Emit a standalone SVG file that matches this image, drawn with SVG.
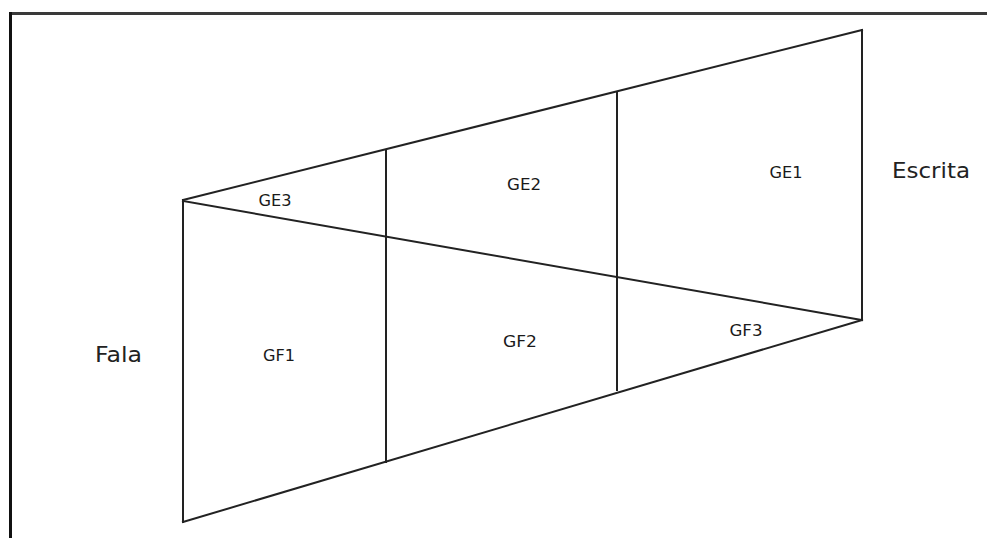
<svg xmlns="http://www.w3.org/2000/svg" width="987" height="538" viewBox="0 0 987 538">
<style>
.ln{stroke:#222;stroke-width:2;fill:none;stroke-linecap:square}
.lb{font-family:"DejaVu Sans",Verdana,sans-serif;font-size:16px;fill:#1a1a1a;text-anchor:middle}
.sd{font-family:"DejaVu Sans",Verdana,sans-serif;font-size:22px;fill:#222;text-anchor:start}
</style>
<rect width="987" height="538" fill="#fff"/>
<g id="frame">
<line x1="10.5" y1="13.5" x2="987" y2="13.5" stroke="#3a3a3a" stroke-width="3"/>
<line x1="10.5" y1="12" x2="10.5" y2="538" stroke="#111" stroke-width="3"/>
</g>
<g id="connectors">
<line class="ln" x1="183" y1="200" x2="183" y2="522"/>
<line class="ln" x1="183" y1="200" x2="862" y2="30"/>
<line class="ln" x1="862" y1="30" x2="862" y2="320"/>
<line class="ln" x1="183" y1="201" x2="862" y2="320"/>
<line class="ln" x1="183" y1="522" x2="862" y2="320"/>
<line class="ln" x1="386" y1="150" x2="386" y2="462"/>
<line class="ln" x1="617" y1="92" x2="617" y2="390"/>
</g>
<g id="GE3"><text class="lb" x="275" y="206" textLength="33" lengthAdjust="spacingAndGlyphs">GE3</text></g>
<g id="GE2"><text class="lb" x="524" y="190" textLength="34" lengthAdjust="spacingAndGlyphs">GE2</text></g>
<g id="GE1"><text class="lb" x="786" y="178" textLength="33" lengthAdjust="spacingAndGlyphs">GE1</text></g>
<g id="GF1"><text class="lb" x="279" y="361" textLength="32" lengthAdjust="spacingAndGlyphs">GF1</text></g>
<g id="GF2"><text class="lb" x="520" y="347" textLength="34" lengthAdjust="spacingAndGlyphs">GF2</text></g>
<g id="GF3"><text class="lb" x="746" y="336" textLength="33" lengthAdjust="spacingAndGlyphs">GF3</text></g>
<g id="Fala"><text class="sd" x="95" y="362" textLength="47" lengthAdjust="spacingAndGlyphs">Fala</text></g>
<g id="Escrita"><text class="sd" x="892" y="178" textLength="78" lengthAdjust="spacingAndGlyphs">Escrita</text></g>
</svg>
